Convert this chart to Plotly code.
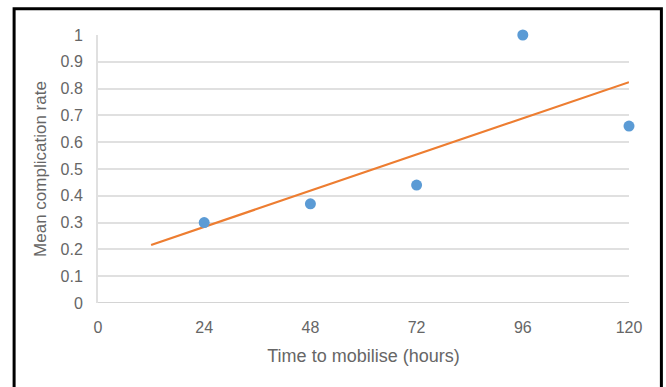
import numpy as np
import plotly.graph_objects as go

# Mean complication rate by time to mobilise
hours = [24, 48, 72, 96, 120]
rate = [0.30, 0.37, 0.44, 1.00, 0.66]

# Linear trend, extended back to 12 h
trend_span = [12, 120]
slope, intercept = np.polyfit(hours, rate, 1)
trend_x = np.array(trend_span, dtype=float)
trend_y = slope * trend_x + intercept

x_ticks = [0, 24, 48, 72, 96, 120]
y_ticks = [0, 0.1, 0.2, 0.3, 0.4, 0.5, 0.6, 0.7, 0.8, 0.9, 1]

fig = go.Figure()
fig.add_trace(go.Scatter(
    x=trend_x, y=trend_y, mode="lines",
    line=dict(color="#ed7d31", width=2.2),
    hoverinfo="skip", showlegend=False, cliponaxis=False,
))
fig.add_trace(go.Scatter(
    x=hours, y=rate, mode="markers",
    marker=dict(color="#5b9bd5", size=11),
    showlegend=False, cliponaxis=False,
))

font_family = "Liberation Sans, Arial, sans-serif"
tick_font = dict(family=font_family, size=16, color="#666666")
xtitle_font = dict(family=font_family, size=18, color="#666666")
ytitle_font = dict(family=font_family, size=17, color="#666666")

fig.update_layout(
    width=666, height=387,
    margin=dict(l=98, r=37, t=35, b=84),
    paper_bgcolor="white", plot_bgcolor="white",
    xaxis=dict(
        range=[0, 120], tickvals=x_ticks, ticktext=[str(v) for v in x_ticks],
        showgrid=False, zeroline=False, showline=False,
        ticks="", tickfont=tick_font, ticklabelstandoff=13,
        title=dict(text="Time to mobilise (hours)", font=xtitle_font, standoff=14),
    ),
    yaxis=dict(
        range=[0, 1], tickvals=y_ticks, ticktext=[f"{v:g}" for v in y_ticks],
        showgrid=True, gridcolor="#e0e0e0", gridwidth=2,
        zeroline=False, showline=True, linecolor="#e0e0e0", linewidth=2,
        ticks="", tickfont=tick_font, ticklabelstandoff=10,
        title=dict(text="Mean complication rate", font=ytitle_font, standoff=10),
    ),
    shapes=[
        # baseline at zero
        dict(type="line", xref="paper", yref="y", x0=0, x1=1, y0=0, y1=0,
             line=dict(color="#d4d4d4", width=2), layer="below"),
        # outer frame
        dict(type="rect", xref="paper", yref="paper",
             x0=-0.158, x1=1.061, y0=-0.35, y1=1.098,
             line=dict(color="black", width=3)),
    ],
)

fig.write_html("out.html")
